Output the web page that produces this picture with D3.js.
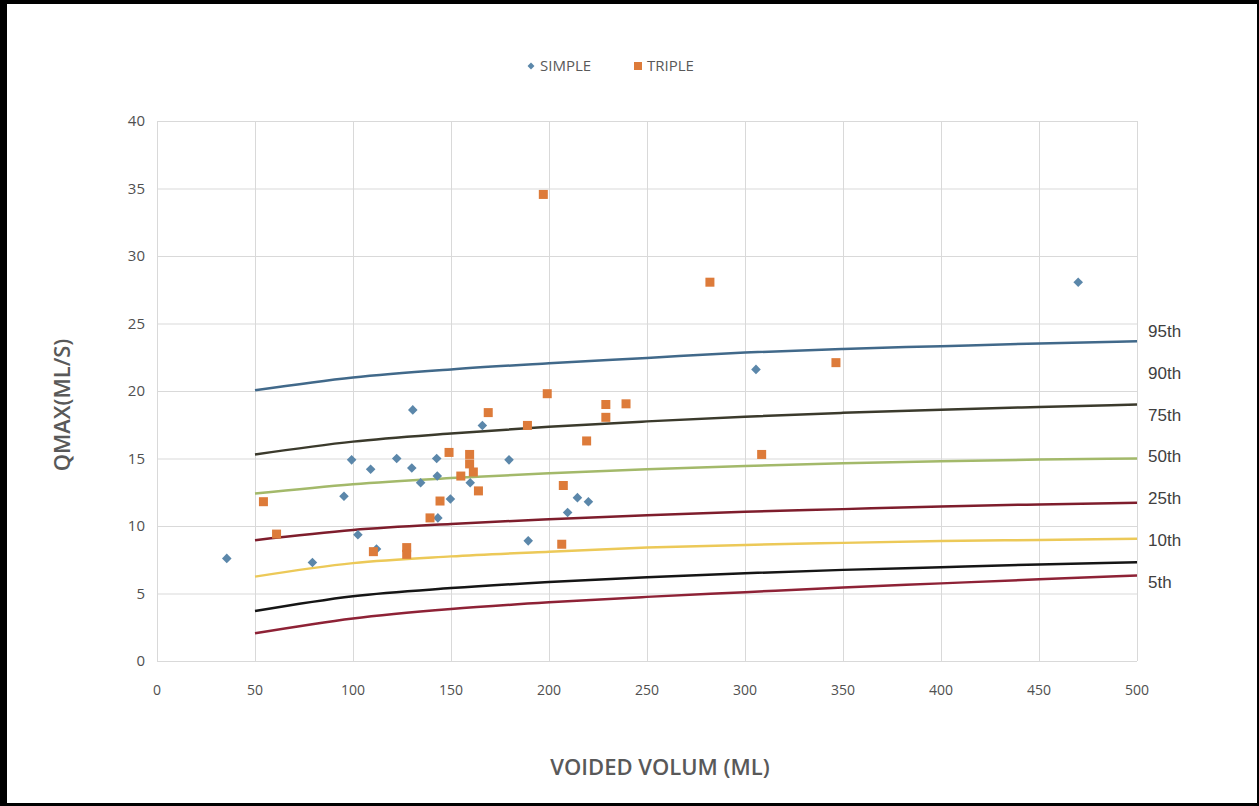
<!DOCTYPE html>
<html>
<head>
<meta charset="utf-8">
<script src="https://cdn.jsdelivr.net/npm/d3@7"></script>
<style>
  body { margin: 0; background: #fff; }
</style>
</head>
<body>
<div id="chart"></div>
<script>
// scatter points [voided volume, qmax]
var simple = [[35.6,7.6],[79.3,7.3],[95.4,12.2],[99.3,14.9],[102.5,9.35],[109,14.2],[112,8.3],
  [122.3,15],[130,14.3],[130.5,18.6],[134.5,13.2],[142.7,15],[143,13.7],[143.3,10.6],[149.7,12],
  [159.8,13.2],[166,17.45],[179.6,14.9],[189.4,8.9],[209.5,11],[214.5,12.1],[220.1,11.8],
  [305.6,21.6],[470,28.06]];
var triple = [[54.3,11.8],[61,9.4],[110.4,8.1],[127.4,8.4],[127.4,7.9],[139.3,10.6],[144.4,11.85],
  [149,15.45],[155,13.7],[159.5,15.3],[159.5,14.6],[161.4,14.0],[164,12.6],[169,18.4],[189,17.45],
  [197.1,34.56],[199.1,19.8],[206.5,8.65],[207.3,13.0],[219.2,16.3],[229,19.0],[229,18.05],
  [239.3,19.05],[282.1,28.06],[308.5,15.3],[346.4,22.1]];

// percentile curves
var volumes = [50,100,150,200,250,300,350,400,450,500];
var p95 = [20.05,21.0,21.6,22.05,22.45,22.85,23.12,23.32,23.52,23.68];
var p90 = [15.3,16.25,16.85,17.35,17.75,18.1,18.38,18.62,18.82,19.0];
var p75 = [12.4,13.1,13.55,13.9,14.2,14.45,14.65,14.8,14.92,15.0];
var p50 = [8.95,9.7,10.15,10.5,10.8,11.05,11.25,11.45,11.6,11.72];
var p25 = [6.25,7.25,7.75,8.1,8.4,8.6,8.75,8.88,8.97,9.05];
var p10 = [3.7,4.8,5.4,5.85,6.2,6.5,6.75,6.95,7.15,7.32];
var p5 = [2.05,3.15,3.85,4.35,4.75,5.1,5.45,5.75,6.05,6.33];
var curveLabels = ["95th","90th","75th","50th","25th","10th","5th"];

var xTicks = [0,50,100,150,200,250,300,350,400,450,500];
var yTicks = [0,5,10,15,20,25,30,35,40];

var width = 1259, height = 806;
var margin = {top: 121, left: 157, right: 122, bottom: 145};
var font = "'Open Sans', 'Noto Sans', sans-serif";

var svg = d3.select("#chart").append("svg")
  .attr("width", width)
  .attr("height", height)
  .style("font-family", font);

svg.append("rect").attr("width", width).attr("height", height).attr("fill", "#fff");

var x = d3.scaleLinear().domain([0, 500]).range([margin.left, width - margin.right]);
var y = d3.scaleLinear().domain([0, 40]).range([height - margin.bottom, margin.top]);

// grid
svg.append("g").selectAll("line").data(yTicks).enter().append("line")
  .attr("x1", x(0)).attr("x2", x(500))
  .attr("y1", d => y(d) + 0.5).attr("y2", d => y(d) + 0.5)
  .attr("stroke", "#d9d9d9");
svg.append("g").selectAll("line").data(xTicks).enter().append("line")
  .attr("y1", y(0)).attr("y2", y(40))
  .attr("x1", d => x(d) + 0.5).attr("x2", d => x(d) + 0.5)
  .attr("stroke", "#d9d9d9");

// tick labels
svg.append("g").selectAll("text").data(yTicks).enter().append("text")
  .attr("x", x(0) - 12).attr("y", d => y(d)).attr("dy", "0.35em")
  .attr("text-anchor", "end").attr("font-size", 15).attr("fill", "#505050")
  .text(d => d);
svg.append("g").selectAll("text").data(xTicks).enter().append("text")
  .attr("x", d => x(d)).attr("y", y(0) + 29).attr("dy", "0.35em")
  .attr("text-anchor", "middle").attr("font-size", 14).attr("fill", "#505050")
  .text(d => d);

// axis titles
svg.append("text")
  .attr("x", 660).attr("y", 767).attr("dy", "0.35em")
  .attr("text-anchor", "middle").attr("font-size", 22).attr("font-weight", 600)
  .attr("fill", "#595959")
  .text("VOIDED VOLUM (ML)");
svg.append("text")
  .attr("transform", "translate(62,405) rotate(-90)")
  .attr("dy", "0.35em")
  .attr("text-anchor", "middle").attr("font-size", 22).attr("font-weight", 600)
  .attr("fill", "#595959")
  .text("QMAX(ML/S)");

// percentile lines
var curves = [
  {values: p95, color: "#41698a"},
  {values: p90, color: "#3b3a2c"},
  {values: p75, color: "#a3b96a"},
  {values: p50, color: "#7e1d2c"},
  {values: p25, color: "#ecc958"},
  {values: p10, color: "#151515"},
  {values: p5, color: "#8e2236"}
];
var line = d3.line()
  .x((d, i) => x(volumes[i]))
  .y(d => y(d))
  .curve(d3.curveMonotoneX);
svg.append("g").selectAll("path").data(curves).enter().append("path")
  .attr("d", d => line(d.values))
  .attr("fill", "none")
  .attr("stroke", d => d.color)
  .attr("stroke-width", 2.5);

// curve labels on the right
svg.append("g").selectAll("text").data(curveLabels).enter().append("text")
  .attr("x", x(500) + 11)
  .attr("y", (d, i) => 331 + i * 41.8)
  .attr("dy", "0.35em")
  .style("font-family", "'Liberation Sans', Arial, sans-serif")
  .attr("font-size", 17).attr("fill", "#404040")
  .text(d => d);

// points
var diamond = d3.symbol().type(d3.symbolSquare).size(46);
svg.append("g").selectAll("path").data(simple).enter().append("path")
  .attr("d", diamond)
  .attr("transform", d => "translate(" + x(d[0]) + "," + y(d[1]) + ") rotate(45)")
  .attr("fill", "#5b87aa");
svg.append("g").selectAll("rect").data(triple).enter().append("rect")
  .attr("x", d => x(d[0]) - 4.5).attr("y", d => y(d[1]) - 4.5)
  .attr("width", 9).attr("height", 9)
  .attr("fill", "#dd7b3a");

// legend
var legend = svg.append("g");
legend.append("path")
  .attr("d", d3.symbol().type(d3.symbolSquare).size(24))
  .attr("transform", "translate(531,66) rotate(45)")
  .attr("fill", "#5b87aa");
legend.append("text").attr("x", 540).attr("y", 66).attr("dy", "0.35em")
  .attr("font-size", 15).attr("fill", "#595959").text("SIMPLE");
legend.append("rect").attr("x", 634).attr("y", 62).attr("width", 8).attr("height", 8)
  .attr("fill", "#dd7b3a");
legend.append("text").attr("x", 647).attr("y", 66).attr("dy", "0.35em")
  .attr("font-size", 15).attr("fill", "#595959").text("TRIPLE");

// black frame
svg.append("rect").attr("x", 0).attr("y", 0).attr("width", width).attr("height", 4).attr("fill", "#000");
svg.append("rect").attr("x", 0).attr("y", 0).attr("width", 7).attr("height", height).attr("fill", "#000");
svg.append("rect").attr("x", 0).attr("y", height - 3).attr("width", width).attr("height", 3).attr("fill", "#000");
svg.append("rect").attr("x", width - 2).attr("y", 0).attr("width", 2).attr("height", height).attr("fill", "#000");
</script>
</body>
</html>
